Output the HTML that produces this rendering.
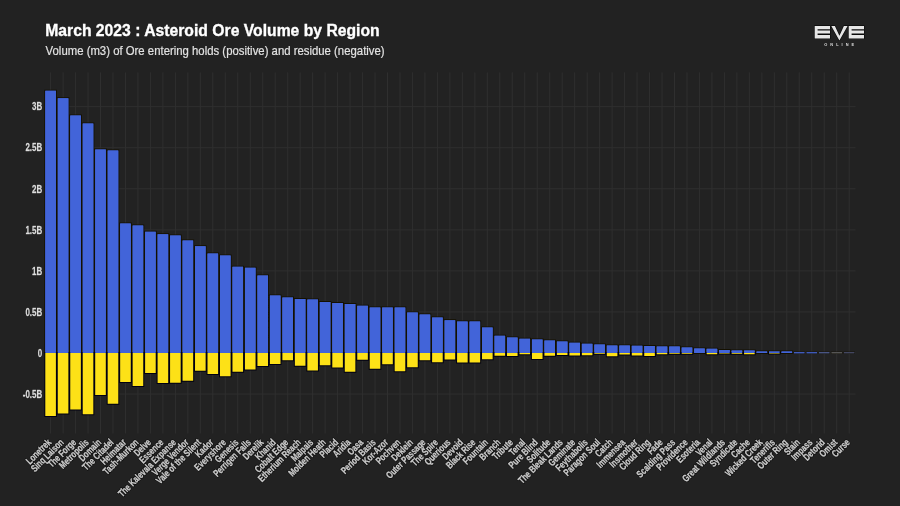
<!DOCTYPE html><html><head><meta charset="utf-8"><style>html,body{margin:0;padding:0;background:#222222;}body{width:900px;height:506px;overflow:hidden;position:relative;font-family:"Liberation Sans",sans-serif;}svg{display:block;position:absolute;left:0;top:0;will-change:transform}</style></head><body>
<svg width="900" height="506" viewBox="0 0 900 506">
<rect x="0" y="0" width="900" height="506" fill="#222222"/>
<text x="45.2" y="36.3" font-family="Liberation Sans" font-weight="bold" font-size="17.2" fill="#ffffff" stroke="#ffffff" stroke-width="0.35" textLength="334.5" lengthAdjust="spacingAndGlyphs">March 2023 : Asteroid Ore Volume by Region</text>
<text x="45.6" y="55.4" font-family="Liberation Sans" font-size="12.6" fill="#e2e2e2" stroke="#e2e2e2" stroke-width="0.2" textLength="339" lengthAdjust="spacingAndGlyphs">Volume (m3) of Ore entering holds (positive) and residue (negative)</text>
<path d="M44.36 394.05H855.50 M44.36 353.00H855.50 M44.36 311.95H855.50 M44.36 270.90H855.50 M44.36 229.85H855.50 M44.36 188.80H855.50 M44.36 147.75H855.50 M44.36 106.70H855.50 M50.60 72.40V433.50 M63.08 72.40V433.50 M75.56 72.40V433.50 M88.03 72.40V433.50 M100.51 72.40V433.50 M112.99 72.40V433.50 M125.47 72.40V433.50 M137.94 72.40V433.50 M150.42 72.40V433.50 M162.90 72.40V433.50 M175.38 72.40V433.50 M187.86 72.40V433.50 M200.33 72.40V433.50 M212.81 72.40V433.50 M225.29 72.40V433.50 M237.77 72.40V433.50 M250.25 72.40V433.50 M262.73 72.40V433.50 M275.20 72.40V433.50 M287.68 72.40V433.50 M300.16 72.40V433.50 M312.64 72.40V433.50 M325.12 72.40V433.50 M337.59 72.40V433.50 M350.07 72.40V433.50 M362.55 72.40V433.50 M375.03 72.40V433.50 M387.50 72.40V433.50 M399.98 72.40V433.50 M412.46 72.40V433.50 M424.94 72.40V433.50 M437.42 72.40V433.50 M449.89 72.40V433.50 M462.37 72.40V433.50 M474.85 72.40V433.50 M487.33 72.40V433.50 M499.81 72.40V433.50 M512.28 72.40V433.50 M524.76 72.40V433.50 M537.24 72.40V433.50 M549.72 72.40V433.50 M562.20 72.40V433.50 M574.67 72.40V433.50 M587.15 72.40V433.50 M599.63 72.40V433.50 M612.11 72.40V433.50 M624.59 72.40V433.50 M637.07 72.40V433.50 M649.54 72.40V433.50 M662.02 72.40V433.50 M674.50 72.40V433.50 M686.98 72.40V433.50 M699.46 72.40V433.50 M711.93 72.40V433.50 M724.41 72.40V433.50 M736.89 72.40V433.50 M749.37 72.40V433.50 M761.85 72.40V433.50 M774.32 72.40V433.50 M786.80 72.40V433.50 M799.28 72.40V433.50 M811.76 72.40V433.50 M824.24 72.40V433.50 M836.71 72.40V433.50 M849.19 72.40V433.50" stroke="#2f2f2f" stroke-width="1" fill="none"/>
<path d="M45.30 90.70H55.90V353.00H45.30Z M57.78 98.30H68.38V353.00H57.78Z M70.26 115.50H80.86V353.00H70.26Z M82.73 123.60H93.33V353.00H82.73Z M95.21 149.40H105.81V353.00H95.21Z M107.69 150.40H118.29V353.00H107.69Z M120.17 223.60H130.77V353.00H120.17Z M132.64 225.60H143.24V353.00H132.64Z M145.12 231.80H155.72V353.00H145.12Z M157.60 234.30H168.20V353.00H157.60Z M170.08 235.50H180.68V353.00H170.08Z M182.56 240.40H193.16V353.00H182.56Z M195.03 246.30H205.63V353.00H195.03Z M207.51 253.60H218.11V353.00H207.51Z M219.99 255.60H230.59V353.00H219.99Z M232.47 266.70H243.07V353.00H232.47Z M244.95 267.70H255.55V353.00H244.95Z M257.43 275.40H268.03V353.00H257.43Z M269.90 295.60H280.50V353.00H269.90Z M282.38 297.40H292.98V353.00H282.38Z M294.86 298.90H305.46V353.00H294.86Z M307.34 299.50H317.94V353.00H307.34Z M319.81 302.10H330.42V353.00H319.81Z M332.29 303.10H342.89V353.00H332.29Z M344.77 304.00H355.37V353.00H344.77Z M357.25 305.70H367.85V353.00H357.25Z M369.73 307.40H380.33V353.00H369.73Z M382.20 307.40H392.81V353.00H382.20Z M394.68 307.40H405.28V353.00H394.68Z M407.16 312.50H417.76V353.00H407.16Z M419.64 314.50H430.24V353.00H419.64Z M432.12 317.60H442.72V353.00H432.12Z M444.59 320.20H455.19V353.00H444.59Z M457.07 321.50H467.67V353.00H457.07Z M469.55 321.60H480.15V353.00H469.55Z M482.03 327.50H492.63V353.00H482.03Z M494.51 335.80H505.11V353.00H494.51Z M506.98 337.50H517.58V353.00H506.98Z M519.46 338.80H530.06V353.00H519.46Z M531.94 339.60H542.54V353.00H531.94Z M544.42 340.50H555.02V353.00H544.42Z M556.90 341.60H567.50V353.00H556.90Z M569.38 342.70H579.98V353.00H569.38Z M581.85 343.80H592.45V353.00H581.85Z M594.33 344.60H604.93V353.00H594.33Z M606.81 345.50H617.41V353.00H606.81Z M619.29 345.50H629.89V353.00H619.29Z M631.77 345.70H642.37V353.00H631.77Z M644.24 346.00H654.84V353.00H644.24Z M656.72 346.40H667.32V353.00H656.72Z M669.20 346.60H679.80V353.00H669.20Z M681.68 347.40H692.28V353.00H681.68Z M694.16 348.60H704.76V353.00H694.16Z M706.63 348.80H717.23V353.00H706.63Z M719.11 349.90H729.71V353.00H719.11Z M731.59 350.40H742.19V353.00H731.59Z M744.07 350.50H754.67V353.00H744.07Z M756.55 351.40H767.15V353.00H756.55Z M769.02 351.50H779.62V353.00H769.02Z M781.50 351.50H792.10V353.00H781.50Z" fill="#4264d9" stroke="#141000" stroke-width="2" paint-order="stroke"/>
<path d="M45.30 353.00H55.90V416.00H45.30Z M57.78 353.00H68.38V413.60H57.78Z M70.26 353.00H80.86V409.50H70.26Z M82.73 353.00H93.33V414.20H82.73Z M95.21 353.00H105.81V394.90H95.21Z M107.69 353.00H118.29V403.80H107.69Z M120.17 353.00H130.77V382.00H120.17Z M132.64 353.00H143.24V385.90H132.64Z M145.12 353.00H155.72V373.10H145.12Z M157.60 353.00H168.20V383.10H157.60Z M170.08 353.00H180.68V382.70H170.08Z M182.56 353.00H193.16V380.70H182.56Z M195.03 353.00H205.63V370.70H195.03Z M207.51 353.00H218.11V374.10H207.51Z M219.99 353.00H230.59V376.30H219.99Z M232.47 353.00H243.07V371.80H232.47Z M244.95 353.00H255.55V369.40H244.95Z M257.43 353.00H268.03V366.10H257.43Z M269.90 353.00H280.50V364.10H269.90Z M282.38 353.00H292.98V360.20H282.38Z M294.86 353.00H305.46V365.70H294.86Z M307.34 353.00H317.94V370.50H307.34Z M319.81 353.00H330.42V365.30H319.81Z M332.29 353.00H342.89V367.40H332.29Z M344.77 353.00H355.37V371.80H344.77Z M357.25 353.00H367.85V359.70H357.25Z M369.73 353.00H380.33V368.80H369.73Z M382.20 353.00H392.81V364.20H382.20Z M394.68 353.00H405.28V371.30H394.68Z M407.16 353.00H417.76V367.20H407.16Z M419.64 353.00H430.24V360.20H419.64Z M432.12 353.00H442.72V362.20H432.12Z M444.59 353.00H455.19V359.40H444.59Z M457.07 353.00H467.67V362.40H457.07Z M469.55 353.00H480.15V362.50H469.55Z M482.03 353.00H492.63V359.30H482.03Z M494.51 353.00H505.11V355.70H494.51Z M506.98 353.00H517.58V355.90H506.98Z M519.46 353.00H530.06V354.30H519.46Z M531.94 353.00H542.54V359.10H531.94Z M544.42 353.00H555.02V355.80H544.42Z M556.90 353.00H567.50V355.10H556.90Z M569.38 353.00H579.98V355.50H569.38Z M581.85 353.00H592.45V355.20H581.85Z M594.33 353.00H604.93V353.70H594.33Z M606.81 353.00H617.41V356.30H606.81Z M619.29 353.00H629.89V354.40H619.29Z M631.77 353.00H642.37V355.50H631.77Z M644.24 353.00H654.84V355.90H644.24Z M656.72 353.00H667.32V354.30H656.72Z M669.20 353.00H679.80V353.80H669.20Z M681.68 353.00H692.28V353.80H681.68Z M706.63 353.00H717.23V354.30H706.63Z M719.11 353.00H729.71V353.50H719.11Z M731.59 353.00H742.19V353.80H731.59Z M744.07 353.00H754.67V354.20H744.07Z M769.02 353.00H779.62V353.60H769.02Z" fill="#fde117" stroke="#000012" stroke-width="2" paint-order="stroke"/>
<path d="M45.30 90.70H55.90V353.00H45.30Z M57.78 98.30H68.38V353.00H57.78Z M70.26 115.50H80.86V353.00H70.26Z M82.73 123.60H93.33V353.00H82.73Z M95.21 149.40H105.81V353.00H95.21Z M107.69 150.40H118.29V353.00H107.69Z M120.17 223.60H130.77V353.00H120.17Z M132.64 225.60H143.24V353.00H132.64Z M145.12 231.80H155.72V353.00H145.12Z M157.60 234.30H168.20V353.00H157.60Z M170.08 235.50H180.68V353.00H170.08Z M182.56 240.40H193.16V353.00H182.56Z M195.03 246.30H205.63V353.00H195.03Z M207.51 253.60H218.11V353.00H207.51Z M219.99 255.60H230.59V353.00H219.99Z M232.47 266.70H243.07V353.00H232.47Z M244.95 267.70H255.55V353.00H244.95Z M257.43 275.40H268.03V353.00H257.43Z M269.90 295.60H280.50V353.00H269.90Z M282.38 297.40H292.98V353.00H282.38Z M294.86 298.90H305.46V353.00H294.86Z M307.34 299.50H317.94V353.00H307.34Z M319.81 302.10H330.42V353.00H319.81Z M332.29 303.10H342.89V353.00H332.29Z M344.77 304.00H355.37V353.00H344.77Z M357.25 305.70H367.85V353.00H357.25Z M369.73 307.40H380.33V353.00H369.73Z M382.20 307.40H392.81V353.00H382.20Z M394.68 307.40H405.28V353.00H394.68Z M407.16 312.50H417.76V353.00H407.16Z M419.64 314.50H430.24V353.00H419.64Z M432.12 317.60H442.72V353.00H432.12Z M444.59 320.20H455.19V353.00H444.59Z M457.07 321.50H467.67V353.00H457.07Z M469.55 321.60H480.15V353.00H469.55Z M482.03 327.50H492.63V353.00H482.03Z M494.51 335.80H505.11V353.00H494.51Z M506.98 337.50H517.58V353.00H506.98Z M519.46 338.80H530.06V353.00H519.46Z M531.94 339.60H542.54V353.00H531.94Z M544.42 340.50H555.02V353.00H544.42Z M556.90 341.60H567.50V353.00H556.90Z M569.38 342.70H579.98V353.00H569.38Z M581.85 343.80H592.45V353.00H581.85Z M594.33 344.60H604.93V353.00H594.33Z M606.81 345.50H617.41V353.00H606.81Z M619.29 345.50H629.89V353.00H619.29Z M631.77 345.70H642.37V353.00H631.77Z M644.24 346.00H654.84V353.00H644.24Z M656.72 346.40H667.32V353.00H656.72Z M669.20 346.60H679.80V353.00H669.20Z M681.68 347.40H692.28V353.00H681.68Z M694.16 348.60H704.76V353.00H694.16Z M706.63 348.80H717.23V353.00H706.63Z M719.11 349.90H729.71V353.00H719.11Z M731.59 350.40H742.19V353.00H731.59Z M744.07 350.50H754.67V353.00H744.07Z M756.55 351.40H767.15V353.00H756.55Z M769.02 351.50H779.62V353.00H769.02Z M781.50 351.50H792.10V353.00H781.50Z" fill="#4264d9"/>
<rect x="793.98" y="352.1" width="10.60" height="1.3" fill="#4563d0" stroke="#141208" stroke-width="1" paint-order="stroke"/>
<rect x="806.46" y="352.1" width="10.60" height="1.3" fill="#4361cc" stroke="#141208" stroke-width="1" paint-order="stroke"/>
<rect x="818.94" y="352.1" width="10.60" height="1.3" fill="#4f5c92" stroke="#141208" stroke-width="1" paint-order="stroke"/>
<rect x="831.41" y="352.1" width="10.60" height="1.3" fill="#5c5c5e" stroke="#141208" stroke-width="1" paint-order="stroke"/>
<rect x="843.89" y="352.1" width="10.60" height="1.3" fill="#474c6a" stroke="#141208" stroke-width="1" paint-order="stroke"/>
<g font-family="Liberation Sans" font-weight="bold" font-size="10.3" fill="#dedede" stroke="#dedede" stroke-width="0.3" text-anchor="end" style="filter:drop-shadow(0 0 0.7px #000) drop-shadow(0 0 0.5px #000)">
<text transform="translate(42.2 397.75) scale(0.77 1)">-0.5B</text>
<text transform="translate(42.2 356.70) scale(0.77 1)">0</text>
<text transform="translate(42.2 315.65) scale(0.77 1)">0.5B</text>
<text transform="translate(42.2 274.60) scale(0.77 1)">1B</text>
<text transform="translate(42.2 233.55) scale(0.77 1)">1.5B</text>
<text transform="translate(42.2 192.50) scale(0.77 1)">2B</text>
<text transform="translate(42.2 151.45) scale(0.77 1)">2.5B</text>
<text transform="translate(42.2 110.40) scale(0.77 1)">3B</text>
</g>
<g font-family="Liberation Sans" font-weight="bold" font-size="10.0" text-anchor="end" fill="#050505" stroke="#050505" stroke-width="1.8" stroke-linejoin="round" opacity="0.75"><text transform="translate(51.90 443.00) rotate(-45) scale(0.735 1)">Lonetrek</text><text transform="translate(64.38 443.00) rotate(-45) scale(0.735 1)">Sinq Laison</text><text transform="translate(76.86 443.00) rotate(-45) scale(0.735 1)">The Forge</text><text transform="translate(89.33 443.00) rotate(-45) scale(0.735 1)">Metropolis</text><text transform="translate(101.81 443.00) rotate(-45) scale(0.735 1)">Domain</text><text transform="translate(114.29 443.00) rotate(-45) scale(0.735 1)">The Citadel</text><text transform="translate(126.77 443.00) rotate(-45) scale(0.735 1)">Heimatar</text><text transform="translate(139.25 443.00) rotate(-45) scale(0.735 1)">Tash-Murkon</text><text transform="translate(151.72 443.00) rotate(-45) scale(0.735 1)">Delve</text><text transform="translate(164.20 443.00) rotate(-45) scale(0.735 1)">Essence</text><text transform="translate(176.68 443.00) rotate(-45) scale(0.735 1)">The Kalevala Expanse</text><text transform="translate(189.16 443.00) rotate(-45) scale(0.735 1)">Verge Vendor</text><text transform="translate(201.63 443.00) rotate(-45) scale(0.735 1)">Vale of the Silent</text><text transform="translate(214.11 443.00) rotate(-45) scale(0.735 1)">Kador</text><text transform="translate(226.59 443.00) rotate(-45) scale(0.735 1)">Everyshore</text><text transform="translate(239.07 443.00) rotate(-45) scale(0.735 1)">Genesis</text><text transform="translate(251.55 443.00) rotate(-45) scale(0.735 1)">Perrigen Falls</text><text transform="translate(264.03 443.00) rotate(-45) scale(0.735 1)">Derelik</text><text transform="translate(276.50 443.00) rotate(-45) scale(0.735 1)">Khanid</text><text transform="translate(288.98 443.00) rotate(-45) scale(0.735 1)">Cobalt Edge</text><text transform="translate(301.46 443.00) rotate(-45) scale(0.735 1)">Etherium Reach</text><text transform="translate(313.94 443.00) rotate(-45) scale(0.735 1)">Malpais</text><text transform="translate(326.42 443.00) rotate(-45) scale(0.735 1)">Molden Heath</text><text transform="translate(338.89 443.00) rotate(-45) scale(0.735 1)">Placid</text><text transform="translate(351.37 443.00) rotate(-45) scale(0.735 1)">Aridia</text><text transform="translate(363.85 443.00) rotate(-45) scale(0.735 1)">Oasa</text><text transform="translate(376.33 443.00) rotate(-45) scale(0.735 1)">Period Basis</text><text transform="translate(388.81 443.00) rotate(-45) scale(0.735 1)">Kor-Azor</text><text transform="translate(401.28 443.00) rotate(-45) scale(0.735 1)">Pochven</text><text transform="translate(413.76 443.00) rotate(-45) scale(0.735 1)">Deklein</text><text transform="translate(426.24 443.00) rotate(-45) scale(0.735 1)">Outer Passage</text><text transform="translate(438.72 443.00) rotate(-45) scale(0.735 1)">The Spire</text><text transform="translate(451.19 443.00) rotate(-45) scale(0.735 1)">Querious</text><text transform="translate(463.67 443.00) rotate(-45) scale(0.735 1)">Devoid</text><text transform="translate(476.15 443.00) rotate(-45) scale(0.735 1)">Black Rise</text><text transform="translate(488.63 443.00) rotate(-45) scale(0.735 1)">Fountain</text><text transform="translate(501.11 443.00) rotate(-45) scale(0.735 1)">Branch</text><text transform="translate(513.58 443.00) rotate(-45) scale(0.735 1)">Tribute</text><text transform="translate(526.06 443.00) rotate(-45) scale(0.735 1)">Tenal</text><text transform="translate(538.54 443.00) rotate(-45) scale(0.735 1)">Pure Blind</text><text transform="translate(551.02 443.00) rotate(-45) scale(0.735 1)">Solitude</text><text transform="translate(563.50 443.00) rotate(-45) scale(0.735 1)">The Bleak Lands</text><text transform="translate(575.97 443.00) rotate(-45) scale(0.735 1)">Geminate</text><text transform="translate(588.45 443.00) rotate(-45) scale(0.735 1)">Feythabolis</text><text transform="translate(600.93 443.00) rotate(-45) scale(0.735 1)">Paragon Soul</text><text transform="translate(613.41 443.00) rotate(-45) scale(0.735 1)">Catch</text><text transform="translate(625.89 443.00) rotate(-45) scale(0.735 1)">Immensea</text><text transform="translate(638.37 443.00) rotate(-45) scale(0.735 1)">Insmother</text><text transform="translate(650.84 443.00) rotate(-45) scale(0.735 1)">Cloud Ring</text><text transform="translate(663.32 443.00) rotate(-45) scale(0.735 1)">Fade</text><text transform="translate(675.80 443.00) rotate(-45) scale(0.735 1)">Scalding Pass</text><text transform="translate(688.28 443.00) rotate(-45) scale(0.735 1)">Providence</text><text transform="translate(700.75 443.00) rotate(-45) scale(0.735 1)">Esoteria</text><text transform="translate(713.23 443.00) rotate(-45) scale(0.735 1)">Venal</text><text transform="translate(725.71 443.00) rotate(-45) scale(0.735 1)">Great Wildlands</text><text transform="translate(738.19 443.00) rotate(-45) scale(0.735 1)">Syndicate</text><text transform="translate(750.67 443.00) rotate(-45) scale(0.735 1)">Cache</text><text transform="translate(763.14 443.00) rotate(-45) scale(0.735 1)">Wicked Creek</text><text transform="translate(775.62 443.00) rotate(-45) scale(0.735 1)">Tenerifis</text><text transform="translate(788.10 443.00) rotate(-45) scale(0.735 1)">Outer Ring</text><text transform="translate(800.58 443.00) rotate(-45) scale(0.735 1)">Stain</text><text transform="translate(813.06 443.00) rotate(-45) scale(0.735 1)">Impass</text><text transform="translate(825.53 443.00) rotate(-45) scale(0.735 1)">Detorid</text><text transform="translate(838.01 443.00) rotate(-45) scale(0.735 1)">Omist</text><text transform="translate(850.49 443.00) rotate(-45) scale(0.735 1)">Curse</text></g>
<g font-family="Liberation Sans" font-weight="bold" font-size="10.0" text-anchor="end" fill="#cccccc" stroke="#cccccc" stroke-width="0.3"><text transform="translate(51.90 443.00) rotate(-45) scale(0.735 1)">Lonetrek</text><text transform="translate(64.38 443.00) rotate(-45) scale(0.735 1)">Sinq Laison</text><text transform="translate(76.86 443.00) rotate(-45) scale(0.735 1)">The Forge</text><text transform="translate(89.33 443.00) rotate(-45) scale(0.735 1)">Metropolis</text><text transform="translate(101.81 443.00) rotate(-45) scale(0.735 1)">Domain</text><text transform="translate(114.29 443.00) rotate(-45) scale(0.735 1)">The Citadel</text><text transform="translate(126.77 443.00) rotate(-45) scale(0.735 1)">Heimatar</text><text transform="translate(139.25 443.00) rotate(-45) scale(0.735 1)">Tash-Murkon</text><text transform="translate(151.72 443.00) rotate(-45) scale(0.735 1)">Delve</text><text transform="translate(164.20 443.00) rotate(-45) scale(0.735 1)">Essence</text><text transform="translate(176.68 443.00) rotate(-45) scale(0.735 1)">The Kalevala Expanse</text><text transform="translate(189.16 443.00) rotate(-45) scale(0.735 1)">Verge Vendor</text><text transform="translate(201.63 443.00) rotate(-45) scale(0.735 1)">Vale of the Silent</text><text transform="translate(214.11 443.00) rotate(-45) scale(0.735 1)">Kador</text><text transform="translate(226.59 443.00) rotate(-45) scale(0.735 1)">Everyshore</text><text transform="translate(239.07 443.00) rotate(-45) scale(0.735 1)">Genesis</text><text transform="translate(251.55 443.00) rotate(-45) scale(0.735 1)">Perrigen Falls</text><text transform="translate(264.03 443.00) rotate(-45) scale(0.735 1)">Derelik</text><text transform="translate(276.50 443.00) rotate(-45) scale(0.735 1)">Khanid</text><text transform="translate(288.98 443.00) rotate(-45) scale(0.735 1)">Cobalt Edge</text><text transform="translate(301.46 443.00) rotate(-45) scale(0.735 1)">Etherium Reach</text><text transform="translate(313.94 443.00) rotate(-45) scale(0.735 1)">Malpais</text><text transform="translate(326.42 443.00) rotate(-45) scale(0.735 1)">Molden Heath</text><text transform="translate(338.89 443.00) rotate(-45) scale(0.735 1)">Placid</text><text transform="translate(351.37 443.00) rotate(-45) scale(0.735 1)">Aridia</text><text transform="translate(363.85 443.00) rotate(-45) scale(0.735 1)">Oasa</text><text transform="translate(376.33 443.00) rotate(-45) scale(0.735 1)">Period Basis</text><text transform="translate(388.81 443.00) rotate(-45) scale(0.735 1)">Kor-Azor</text><text transform="translate(401.28 443.00) rotate(-45) scale(0.735 1)">Pochven</text><text transform="translate(413.76 443.00) rotate(-45) scale(0.735 1)">Deklein</text><text transform="translate(426.24 443.00) rotate(-45) scale(0.735 1)">Outer Passage</text><text transform="translate(438.72 443.00) rotate(-45) scale(0.735 1)">The Spire</text><text transform="translate(451.19 443.00) rotate(-45) scale(0.735 1)">Querious</text><text transform="translate(463.67 443.00) rotate(-45) scale(0.735 1)">Devoid</text><text transform="translate(476.15 443.00) rotate(-45) scale(0.735 1)">Black Rise</text><text transform="translate(488.63 443.00) rotate(-45) scale(0.735 1)">Fountain</text><text transform="translate(501.11 443.00) rotate(-45) scale(0.735 1)">Branch</text><text transform="translate(513.58 443.00) rotate(-45) scale(0.735 1)">Tribute</text><text transform="translate(526.06 443.00) rotate(-45) scale(0.735 1)">Tenal</text><text transform="translate(538.54 443.00) rotate(-45) scale(0.735 1)">Pure Blind</text><text transform="translate(551.02 443.00) rotate(-45) scale(0.735 1)">Solitude</text><text transform="translate(563.50 443.00) rotate(-45) scale(0.735 1)">The Bleak Lands</text><text transform="translate(575.97 443.00) rotate(-45) scale(0.735 1)">Geminate</text><text transform="translate(588.45 443.00) rotate(-45) scale(0.735 1)">Feythabolis</text><text transform="translate(600.93 443.00) rotate(-45) scale(0.735 1)">Paragon Soul</text><text transform="translate(613.41 443.00) rotate(-45) scale(0.735 1)">Catch</text><text transform="translate(625.89 443.00) rotate(-45) scale(0.735 1)">Immensea</text><text transform="translate(638.37 443.00) rotate(-45) scale(0.735 1)">Insmother</text><text transform="translate(650.84 443.00) rotate(-45) scale(0.735 1)">Cloud Ring</text><text transform="translate(663.32 443.00) rotate(-45) scale(0.735 1)">Fade</text><text transform="translate(675.80 443.00) rotate(-45) scale(0.735 1)">Scalding Pass</text><text transform="translate(688.28 443.00) rotate(-45) scale(0.735 1)">Providence</text><text transform="translate(700.75 443.00) rotate(-45) scale(0.735 1)">Esoteria</text><text transform="translate(713.23 443.00) rotate(-45) scale(0.735 1)">Venal</text><text transform="translate(725.71 443.00) rotate(-45) scale(0.735 1)">Great Wildlands</text><text transform="translate(738.19 443.00) rotate(-45) scale(0.735 1)">Syndicate</text><text transform="translate(750.67 443.00) rotate(-45) scale(0.735 1)">Cache</text><text transform="translate(763.14 443.00) rotate(-45) scale(0.735 1)">Wicked Creek</text><text transform="translate(775.62 443.00) rotate(-45) scale(0.735 1)">Tenerifis</text><text transform="translate(788.10 443.00) rotate(-45) scale(0.735 1)">Outer Ring</text><text transform="translate(800.58 443.00) rotate(-45) scale(0.735 1)">Stain</text><text transform="translate(813.06 443.00) rotate(-45) scale(0.735 1)">Impass</text><text transform="translate(825.53 443.00) rotate(-45) scale(0.735 1)">Detorid</text><text transform="translate(838.01 443.00) rotate(-45) scale(0.735 1)">Omist</text><text transform="translate(850.49 443.00) rotate(-45) scale(0.735 1)">Curse</text></g>
<path d="M814.7 25.95H830.0V29.2H817.6V30.4H830.0V33.6H817.6V34.9H830.0V38.4H814.7ZM848.7 25.95H864.0V29.2H851.6V30.4H864.0V33.6H851.6V34.9H864.0V38.4H848.7ZM831.3 25.95H834.9L839.4 35.8L843.9 25.95H847.6L839.4 40.4Z" fill="#e6e6e6" stroke="#0a0a0a" stroke-width="1.2" paint-order="stroke" stroke-linejoin="round"/>
<text x="824.2" y="45.8" font-family="Liberation Sans" font-weight="bold" font-size="3.9" fill="#dddddd" textLength="30" lengthAdjust="spacing">ONLINE</text>
</svg></body></html>
